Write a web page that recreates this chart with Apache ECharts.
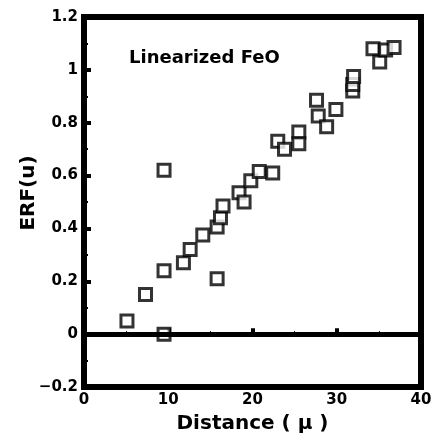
<!DOCTYPE html>
<html>
<head>
<meta charset="utf-8">
<script src="https://cdn.jsdelivr.net/npm/echarts@6/dist/echarts.min.js"></script>
<style>
    html, body { margin: 0; padding: 0; background: #fff; }
    #main { width: 434px; height: 437px; }
</style>
</head>
<body>
<div id="main"></div>
<script>
// 数据点 距离 (μ)
var distance = [5.1, 7.3, 9.5, 9.5, 9.5, 11.8, 12.6, 14.1, 15.8, 15.8, 16.2, 16.5,
    18.4, 19.0, 19.8, 20.8, 22.4, 23.0, 23.8, 25.5, 25.5, 27.6, 27.8, 28.8, 29.9,
    31.9, 31.9, 32.0, 34.3, 35.1, 35.8, 36.8];
// ERF(u)
var erf = [0.05, 0.15, 0.24, 0.62, 0.0, 0.27, 0.32, 0.375, 0.21, 0.405, 0.44, 0.485,
    0.535, 0.50, 0.58, 0.615, 0.61, 0.73, 0.70, 0.765, 0.72, 0.885, 0.825, 0.785, 0.85,
    0.92, 0.945, 0.975, 1.08, 1.03, 1.075, 1.085];
var xTicks = [0, 10, 20, 30, 40];
var yTicks = [-0.2, 0, 0.2, 0.4, 0.6, 0.8, 1, 1.2];

(function() {
    var myChart = echarts.init(document.getElementById('main'));
    var font = 'DejaVu Sans';
    var points = distance.map(function(d, i) { return [d, erf[i]]; });

    var option = {
        animation: false,
        backgroundColor: '#fff',
        title: {
            text: 'Linearized FeO',
            left: 124,
            top: 44,
            textStyle: { fontFamily: font, fontWeight: 'bold', fontSize: 18, color: '#000' }
        },
        // 边框
        grid: {
            left: 84, right: 13, top: 17, bottom: 50,
            outerBoundsMode: 'none',
            show: true,
            borderColor: '#000',
            borderWidth: 6
        },
        xAxis: {
            type: 'value',
            min: xTicks[0],
            max: xTicks[xTicks.length - 1],
            interval: 10,
            name: 'Distance ( μ )',
            nameLocation: 'middle',
            nameGap: 27,
            nameMoveOverlap: false,
            nameTextStyle: { fontFamily: font, fontWeight: 'bold', fontSize: 20, color: '#000' },
            axisLine: { show: false },
            axisTick: { show: true, inside: true, length: 6, lineStyle: { color: '#000', width: 4 } },
            minorTick: { show: true, splitNumber: 2, length: 3, lineStyle: { color: '#000', width: 1 } },
            splitLine: { show: false },
            axisLabel: {
                fontFamily: font, fontWeight: 'bold', fontSize: 15, color: '#000', margin: 6,
                formatter: function(v) { return xTicks.indexOf(v) >= 0 ? String(v) : ''; }
            }
        },
        yAxis: {
            type: 'value',
            min: yTicks[0],
            max: yTicks[yTicks.length - 1],
            interval: 0.2,
            name: 'ERF(u)',
            nameLocation: 'middle',
            nameGap: 45,
            nameMoveOverlap: false,
            nameTextStyle: { fontFamily: font, fontWeight: 'bold', fontSize: 20, color: '#000', padding: [0, 0, 0, 18] },
            axisLine: { show: false },
            axisTick: { show: true, inside: true, length: 7, lineStyle: { color: '#000', width: 4 } },
            minorTick: { show: true, splitNumber: 2, length: 4, lineStyle: { color: '#000', width: 2 } },
            splitLine: { show: false },
            axisLabel: {
                fontFamily: font, fontWeight: 'bold', fontSize: 15, color: '#000', margin: 6,
                formatter: function(v) {
                    var r = Math.round(v * 10) / 10;
                    return r < 0 ? '\u2212' + String(-r) : String(r);
                }
            }
        },
        series: [{
            type: 'scatter',
            data: points,
            symbol: 'rect',
            symbolSize: 12,
            itemStyle: { color: '#fff', borderColor: '#000', borderWidth: 3 },
            // 零线
            markLine: {
                silent: true,
                symbol: 'none',
                label: { show: false },
                lineStyle: { color: '#000', width: 5, type: 'solid' },
                data: [{ yAxis: 0 }]
            }
        }]
    };
    myChart.setOption(option);
    window.addEventListener('resize', function() {
        myChart.resize();
    });
})();
</script>
</body>
</html>
